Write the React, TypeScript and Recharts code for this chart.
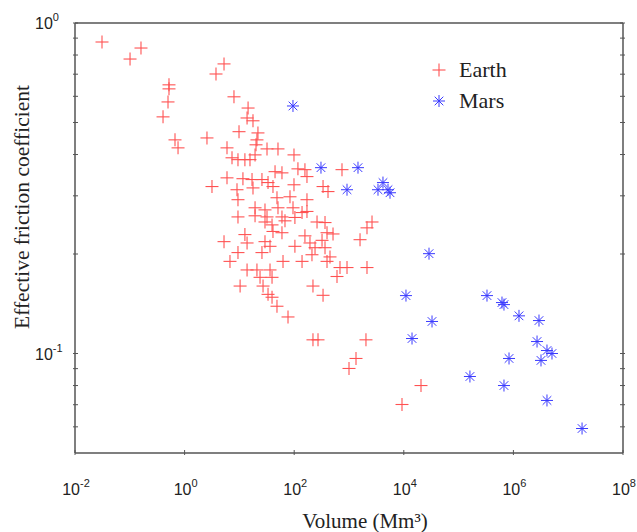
import React from "react";
import { ScatterChart, Scatter, XAxis, YAxis, Legend } from "recharts";

// Earth landslides: volume (Mm^3) and effective friction coefficient
const earthVolume = [
  0.0311, 0.101, 0.16, 0.519, 0.519, 0.498, 0.404, 0.668, 0.759, 2.56,
  3.74, 5.24, 7.96, 14.4, 13.8, 17.7, 9.84, 21.8, 20.9, 5.94,
  31.9, 50.6, 99.1, 7.33, 9.42, 12.6, 15.6, 19.3, 20.1, 117,
  157, 171, 745, 5.94, 11.6, 17.0, 25.8, 33.3, 44.7, 59.8,
  3.16, 9.04, 17.7, 41.0, 99.1, 336, 414, 9.42, 48.5, 83.8,
  171, 19.3, 29.3, 50.6, 95.1, 171, 9.42, 19.3, 31.9, 59.8,
  103, 261, 365, 2630, 2130, 29.3, 39.4, 67.9, 139, 41.0,
  59.8, 397, 511, 157, 12.6, 5.24, 13.8, 29.3, 36.2, 103,
  194, 240, 365, 322, 1590, 9.42, 25.8, 211, 450, 6.73,
  62.5, 139, 397, 13.8, 20.9, 36.2, 685, 920, 2130, 23.8,
  39.4, 604, 10.3, 27.0, 220, 33.3, 39.4, 336, 48.5, 77.1,
  220, 272, 2040, 1342, 1000, 20600, 9270,
];
const earthFriction = [
  0.876, 0.778, 0.84, 0.65, 0.632, 0.577, 0.52, 0.443, 0.419, 0.449,
  0.701, 0.752, 0.598, 0.553, 0.516, 0.506, 0.469, 0.465, 0.443, 0.419,
  0.416, 0.416, 0.399, 0.391, 0.386, 0.386, 0.386, 0.399, 0.428, 0.362,
  0.36, 0.343, 0.36, 0.34, 0.338, 0.336, 0.336, 0.329, 0.355, 0.352,
  0.32, 0.313, 0.317, 0.32, 0.324, 0.32, 0.309, 0.292, 0.296, 0.298,
  0.292, 0.276, 0.272, 0.276, 0.276, 0.269, 0.259, 0.261, 0.259, 0.259,
  0.258, 0.25, 0.249, 0.25, 0.24, 0.25, 0.245, 0.252, 0.267, 0.234,
  0.232, 0.232, 0.23, 0.227, 0.229, 0.218, 0.216, 0.218, 0.211, 0.211,
  0.216, 0.209, 0.209, 0.22, 0.221, 0.202, 0.202, 0.199, 0.196, 0.19,
  0.19, 0.19, 0.19, 0.179, 0.179, 0.179, 0.182, 0.182, 0.182, 0.17,
  0.17, 0.171, 0.16, 0.16, 0.16, 0.151, 0.148, 0.15, 0.139, 0.129,
  0.11, 0.11, 0.11, 0.0966, 0.0901, 0.08, 0.0701,
];

// Mars landslides
const marsVolume = [
  95, 308, 1459, 920, 3381, 4169, 5149, 5600, 28840, 10960,
  32730, 14130, 329600, 619000, 673000, 1265000, 2930000, 2700000, 4100000, 5060000,
  832000, 3190000, 161000, 673000, 4100000, 17900000,
];
const marsFriction = [
  0.561, 0.365, 0.365, 0.313, 0.313, 0.329, 0.313, 0.3065, 0.2005, 0.1497,
  0.125, 0.111, 0.1497, 0.1426, 0.1406, 0.13, 0.1258, 0.1087, 0.1021, 0.1,
  0.0966, 0.0953, 0.0852, 0.08, 0.0721, 0.0593,
];

const xTicks = [0.01, 1, 100, 1e4, 1e6, 1e8];
const yTicks = [0.06, 0.07, 0.08, 0.09, 0.1, 0.2, 0.3, 0.4, 0.5, 0.6, 0.7, 0.8, 0.9, 1];

const earthData = earthVolume.map((v, i) => ({ v, mu: earthFriction[i] }));
const marsData = marsVolume.map((v, i) => ({ v, mu: marsFriction[i] }));

const RED = "#ff5252";
const BLUE = "#3a3aff";
const AXIS = "#555";
const SANS = "Liberation Sans, Arial, Helvetica, sans-serif";
const SERIF = "Liberation Serif, Times New Roman, DejaVu Serif, serif";

function Plus({ cx, cy, r = 6.5 }: any) {
  return (
    <g stroke={RED} strokeWidth={1.1}>
      <line x1={cx - r} y1={cy} x2={cx + r} y2={cy} />
      <line x1={cx} y1={cy - r} x2={cx} y2={cy + r} />
    </g>
  );
}

function Star({ cx, cy, r = 6 }: any) {
  const d = r * 0.72;
  return (
    <g stroke={BLUE} strokeWidth={1}>
      <line x1={cx - r} y1={cy} x2={cx + r} y2={cy} />
      <line x1={cx} y1={cy - r} x2={cx} y2={cy + r} />
      <line x1={cx - d} y1={cy - d} x2={cx + d} y2={cy + d} />
      <line x1={cx - d} y1={cy + d} x2={cx + d} y2={cy - d} />
    </g>
  );
}

function isPow10(v: number) {
  const e = Math.log10(v);
  return Math.abs(e - Math.round(e)) < 1e-9;
}

// ticks point into the plot box, like the original figure
function Tick({ x, y, payload, side }: any) {
  const v = payload.value;
  const major = isPow10(v);
  const exp = Math.round(Math.log10(v));
  const len = 5;
  let line;
  if (side === "bottom") line = <line x1={x} y1={y} x2={x} y2={y - len} />;
  else if (side === "top") line = <line x1={x} y1={y} x2={x} y2={y + len} />;
  else if (side === "left") line = <line x1={x} y1={y} x2={x + len} y2={y} />;
  else line = <line x1={x} y1={y} x2={x - len} y2={y} />;

  let label = null;
  if (major && side === "bottom") {
    label = (
      <text x={x + 1} y={y + 40} textAnchor="middle" fontFamily={SANS} fontSize={16} fill="#222">
        10<tspan dy={-8} fontSize={11}>{exp}</tspan>
      </text>
    );
  } else if (major && side === "left") {
    label = (
      <text x={x - 38} y={y + 6} textAnchor="start" fontFamily={SANS} fontSize={16} fill="#222">
        10<tspan dy={-8} fontSize={11}>{exp}</tspan>
      </text>
    );
  }
  return (
    <g>
      <g stroke={AXIS} strokeWidth={1}>{line}</g>
      {label}
    </g>
  );
}

function renderLegend(props: any) {
  const { payload } = props;
  return (
    <div style={{ background: "#fff", padding: "2px 6px" }}>
      {payload.map((entry: any) => (
        <div key={entry.value} style={{ display: "flex", alignItems: "center", height: 31 }}>
          <svg width={20} height={20} style={{ marginRight: 10 }}>
            {entry.value === "Earth" ? <Plus cx={10} cy={10} /> : <Star cx={10} cy={10} />}
          </svg>
          <span style={{ fontFamily: SERIF, fontSize: 22, color: "#222" }}>{entry.value}</span>
        </div>
      ))}
    </div>
  );
}

const XTitle = () => (
  <text x={365} y={528} textAnchor="middle" fontFamily={SERIF} fontSize={21} fill="#222">
    Volume (Mm³)
  </text>
);

const YTitle = () => (
  <text transform="translate(29,207) rotate(-90)" textAnchor="middle" fontFamily={SERIF} fontSize={21.5} fill="#222">
    Effective friction coefficient
  </text>
);

export default function App() {
  const axisLine = { stroke: AXIS, strokeWidth: 1.5 };
  return (
    <div style={{ position: "absolute", left: 0, top: 0, background: "#fff" }}>
      <ScatterChart width={637} height={532} margin={{ top: 22, right: 13, bottom: 0, left: 0 }}>
        <XAxis
          xAxisId="bottom"
          type="number"
          dataKey="v"
          scale="log"
          domain={[0.01, 1e8]}
          allowDataOverflow
          ticks={xTicks}
          interval={0}
          height={79}
          tickSize={0}
          tickLine={false}
          axisLine={axisLine}
          tick={<Tick side="bottom" />}
          label={{ content: () => <XTitle /> }}
        />
        <XAxis
          xAxisId="top"
          orientation="top"
          type="number"
          scale="log"
          domain={[0.01, 1e8]}
          allowDataOverflow
          ticks={xTicks}
          interval={0}
          height={1}
          tickSize={0}
          tickLine={false}
          axisLine={axisLine}
          tick={<Tick side="top" />}
        />
        <YAxis
          yAxisId="left"
          type="number"
          dataKey="mu"
          scale="log"
          domain={[0.05, 1]}
          allowDataOverflow
          ticks={yTicks}
          interval={0}
          width={75}
          tickSize={0}
          tickLine={false}
          axisLine={axisLine}
          tick={<Tick side="left" />}
          label={{ content: () => <YTitle /> }}
        />
        <YAxis
          yAxisId="right"
          orientation="right"
          type="number"
          scale="log"
          domain={[0.05, 1]}
          allowDataOverflow
          ticks={yTicks}
          interval={0}
          width={1}
          tickSize={0}
          tickLine={false}
          axisLine={axisLine}
          tick={<Tick side="right" />}
        />
        <Legend
          layout="vertical"
          align="center"
          verticalAlign="middle"
          content={renderLegend}
          wrapperStyle={{ left: 423, top: 52, width: "auto" }}
        />
        <Scatter
          name="Earth"
          data={earthData}
          xAxisId="bottom"
          yAxisId="left"
          fill={RED}
          shape={(p: any) => <Plus cx={p.cx} cy={p.cy} />}
          isAnimationActive={false}
        />
        <Scatter
          name="Mars"
          data={marsData}
          xAxisId="bottom"
          yAxisId="left"
          fill={BLUE}
          shape={(p: any) => <Star cx={p.cx} cy={p.cy} />}
          isAnimationActive={false}
        />
      </ScatterChart>
    </div>
  );
}
